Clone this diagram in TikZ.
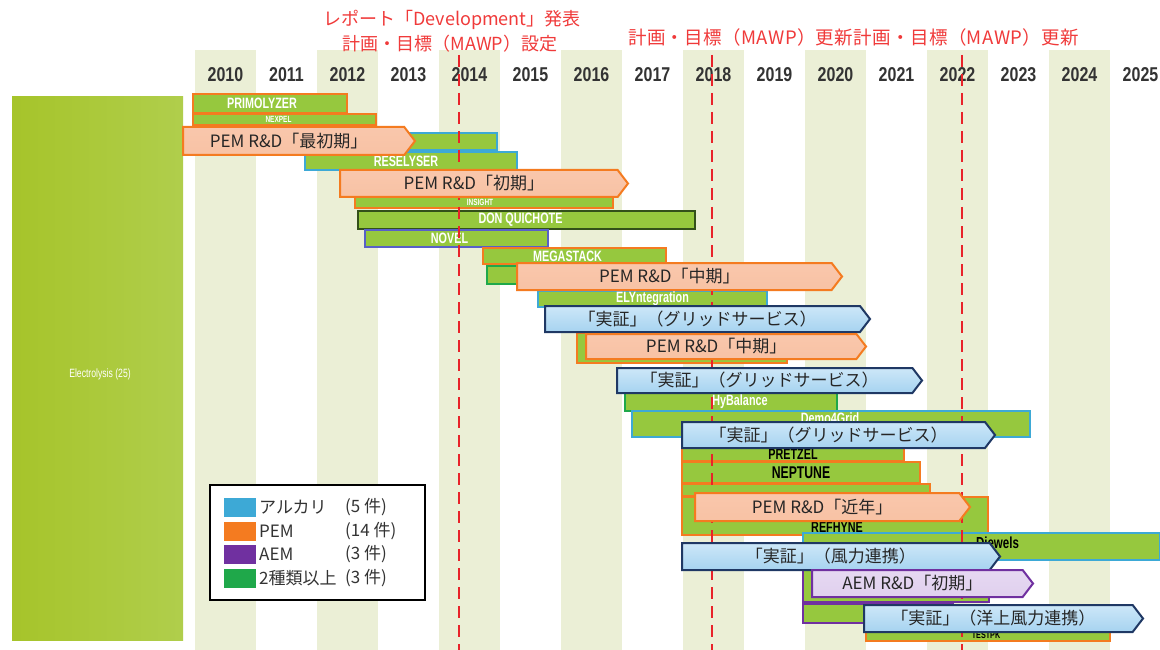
\documentclass[tikz,border=0pt]{standalone}
\usepackage{fontspec}
\setmainfont{Noto Sans CJK JP}
\newfontfamily\jp{Noto Sans CJK JP}
\newfontfamily\jpwide[LetterSpace=2]{Noto Sans CJK JP}
\newfontfamily\yearfont[FakeStretch=0.8]{Liberation Sans}
\newfontfamily\barfont[FakeStretch=0.72]{Liberation Sans}
\usetikzlibrary{shapes.symbols}

\definecolor{stripe}{HTML}{EBEFD6}
\definecolor{barG}{HTML}{96C83E}
\definecolor{cPEM}{HTML}{F47B20}
\definecolor{cALK}{HTML}{3DA9D6}
\definecolor{cAEM}{HTML}{7030A0}
\definecolor{cMULTI}{HTML}{1FA84A}
\definecolor{cDark}{HTML}{33501A}
\definecolor{cNov}{HTML}{5860C8}
\definecolor{navy}{HTML}{1F3864}
\definecolor{redline}{HTML}{E8232A}
\definecolor{redtxt}{HTML}{F03A3A}
\definecolor{pemTop}{HTML}{F9C7AC}
\definecolor{pemMid}{HTML}{FDE8DD}
\definecolor{pemBot}{HTML}{F8C2A4}
\definecolor{bluTop}{HTML}{CDE7F8}
\definecolor{bluMid}{HTML}{BFE0F6}
\definecolor{bluBot}{HTML}{A6D3F0}
\definecolor{aemTop}{HTML}{E6D8F2}
\definecolor{aemMid}{HTML}{F3ECF9}
\definecolor{aemBot}{HTML}{E0D0EE}
\definecolor{blkL}{HTML}{A6C42A}
\definecolor{blkR}{HTML}{B0CE4C}
\definecolor{txtg}{HTML}{333333}

\tikzset{
  gbarst/.style={rectangle, fill=barG, line width=1.6pt, inner sep=0pt, outer sep=0pt},
  glbl/.style={font=\barfont\bfseries\fontsize{15}{15}\selectfont, inner sep=0pt},
  arrbase/.style={signal, signal to=east, signal pointer angle=105, inner sep=0pt,
    outer sep=0pt, font=\jp\fontsize{17}{17}\selectfont, text=black!85},
  pemarr/.style={arrbase, draw=cPEM, line width=2pt, top color=pemTop, middle color=pemMid, bottom color=pemBot},
  gridarr/.style={arrbase, draw=navy, line width=2pt, top color=bluTop, middle color=bluMid, bottom color=bluBot},
  aemarr/.style={arrbase, draw=cAEM, line width=2pt, top color=aemTop, middle color=aemMid, bottom color=aemBot},
  yearst/.style={font=\yearfont\bfseries\fontsize{20}{20}\selectfont, text=txtg, inner sep=0pt},
  redst/.style={font=\jp\fontsize{18}{18}\selectfont, text=redtxt, inner sep=0pt},
  redwide/.style={font=\jpwide\fontsize{18.5}{18.5}\selectfont, text=redtxt, inner sep=0pt},
  dashst/.style={draw=redline, line width=2.6pt, dash pattern=on 12pt off 7pt},
  legsq/.style={rectangle, minimum width=32, minimum height=19, inner sep=0pt, outer sep=0pt},
  legtx/.style={font=\jp\fontsize{17}{17}\selectfont, text=txtg, inner sep=0pt, anchor=west},
}

\newcommand\gbar[9]{%
  \node[gbarst, draw=#6, minimum width=#4, minimum height=#5, anchor=north west] (#1) at (#2,#3) {};
  \node[glbl, text=#8, shift={#9}] (#1l) at (#1.center) {#7};
}
\newcommand\arr[7]{%
  \node[#6, minimum width=#4, minimum height=#5, anchor=west] (#1) at (#2,#3) {#7\hspace*{10pt}};
}

\begin{document}
\begin{tikzpicture}[x=1pt, y=-1pt]
\useasboundingbox (0,0) rectangle (1160,650);
\fill[white] (0,0) rectangle (1160,650);

% stripes for even years
\foreach \i in {0,2,...,14} \fill[stripe] ({195+\i*61},50) rectangle ++(61,600);

% left category block
\node[rectangle, left color=blkL, right color=blkR, minimum width=171, minimum height=543,
  inner sep=0pt, outer sep=0pt, anchor=north west] (cat) at (12,97) {};
\node[font=\barfont\fontsize{12}{12}\selectfont, text=white, inner sep=0pt] (catl) at (100,374) {Electrolysis (25)};

% years
\foreach \y [count=\i from 0] in {2010,...,2025}
  \node[yearst] (y\y) at ({225.5+\i*61},75) {\y};

% project bars
\gbar{prim}{193}{94}{154}{19}{cPEM}{PRIMOLYZER}{white}{(-8,0)}
\gbar{nexp}{193}{114}{183}{11}{cPEM}{\fontsize{9}{9}\selectfont NEXPEL}{white}{(-6,0)}
\gbar{alka}{405}{133}{92}{17}{cALK}{}{white}{(0,0)}
\gbar{rese}{305}{152}{212}{18}{cALK}{RESELYSER}{white}{(-5,0)}
\gbar{insi}{355}{196}{258}{12}{cPEM}{\fontsize{9}{9}\selectfont INSIGHT}{white}{(-4,0)}
\gbar{donq}{358}{211}{337}{18}{cDark}{DON QUICHOTE}{white}{(-6,0)}
\gbar{nove}{365}{230}{183}{17}{cNov}{NOVEL}{white}{(-7,0)}
\gbar{mega}{483}{248}{183}{16}{cPEM}{MEGASTACK}{white}{(-7,0)}
\gbar{mult}{487}{266}{80}{18}{cMULTI}{}{white}{(0,0)}
\gbar{elyn}{538}{291}{229}{16}{cALK}{ELYntegration}{white}{(0,0)}
\gbar{hidp}{577}{333}{210}{30}{cPEM}{}{white}{(0,0)}
\gbar{hyba}{625}{393}{212}{18}{cMULTI}{HyBalance}{white}{(9,0)}
\gbar{demo}{632}{411}{398}{26}{cALK}{Demo4Grid}{white}{(-1,-6)}
\gbar{pret}{682}{448}{222}{13}{cPEM}{PRETZEL}{black}{(0,0)}
\gbar{nept}{682}{462}{238}{21}{cPEM}{\fontsize{17}{17}\selectfont NEPTUNE}{black}{(0,0)}
\gbar{hfut}{682}{484}{248}{12}{cPEM}{}{black}{(0,0)}
\gbar{refh}{682}{497}{306}{38}{cPEM}{REFHYNE}{black}{(2,11)}
\gbar{djew}{803}{533}{357}{27}{cALK}{\fontsize{16}{16}\selectfont Djewels}{black}{(16,-2)}
\gbar{aema}{803}{570}{186}{32}{cAEM}{}{white}{(0,0)}
\gbar{aemb}{803}{604}{150}{19}{cAEM}{}{white}{(0,0)}
\gbar{test}{866}{630}{244}{11}{cPEM}{\fontsize{10}{10}\selectfont TESTPK}{black}{(-2,0)}

% red dashed milestone lines
\coordinate (m1t) at (459,55); \coordinate (m1b) at (459,650);
\coordinate (m2t) at (712,55); \coordinate (m2b) at (712,650);
\coordinate (m3t) at (962,55); \coordinate (m3b) at (962,650);
\draw[dashst] (m1t) -- (m1b);
\draw[dashst] (m2t) -- (m2b);
\draw[dashst] (m3t) -- (m3b);

% overlay arrows
\arr{a1}{183}{141}{232}{28}{pemarr}{PEM R\&D「最初期」}
\arr{a2}{340}{183.5}{288}{27}{pemarr}{PEM R\&D「初期」}
\arr{a3}{517}{276.5}{325}{27}{pemarr}{PEM R\&D「中期」}
\arr{a4}{545}{319}{325}{26}{gridarr}{「実証」（グリッドサービス）}
\arr{a5}{586}{346.5}{280}{25}{pemarr}{PEM R\&D「中期」}
\arr{a6}{617}{380.5}{305}{25}{gridarr}{「実証」（グリッドサービス）}
\arr{a7}{682}{435}{313}{26}{gridarr}{「実証」（グリッドサービス）}
\arr{a8}{695}{507}{275}{28}{pemarr}{PEM R\&D「近年」}
\arr{a9}{682}{556.5}{318}{27}{gridarr}{「実証」（風力連携）}
\arr{a10}{812}{583.5}{221}{27}{aemarr}{AEM R\&D「初期」}
\arr{a11}{864}{618.5}{279}{27}{gridarr}{「実証」（洋上風力連携）}

% legend
\node[draw=black, line width=2pt, fill=white, minimum width=215, minimum height=115,
  inner sep=0pt, outer sep=0pt, anchor=north west] (leg) at (210,485) {};
\node[legsq, fill=cALK] (s1) at (240,507.5) {};
\node[legsq, fill=cPEM] (s2) at (240,531) {};
\node[legsq, fill=cAEM] (s3) at (240,554.5) {};
\node[legsq, fill=cMULTI] (s4) at (240,578) {};
\node[legtx] (t1) at (259,507.5) {アルカリ};
\node[legtx] (t2) at (259,531) {PEM};
\node[legtx] (t3) at (259,554.5) {AEM};
\node[legtx] (t4) at (259,578) {2種類以上};
\node[legtx] (c1) at (345,507.5) {(5 件)};
\node[legtx] (c2) at (345,531) {(14 件)};
\node[legtx] (c3) at (345,554.5) {(3 件)};
\node[legtx] (c4) at (345,578) {(3 件)};

% top red annotations
\node[redst] (n1a) at (452,20) {レポート「Development」発表};
\node[redst] (n1b) at (450,44) {計画・目標（MAWP）設定};
\node[redwide, anchor=west] (n2) at (628,37) {計画・目標（MAWP）更新};
\node[redwide, anchor=west] (n3) at (n2.east) {計画・目標（MAWP）更新};
\end{tikzpicture}
\end{document}
